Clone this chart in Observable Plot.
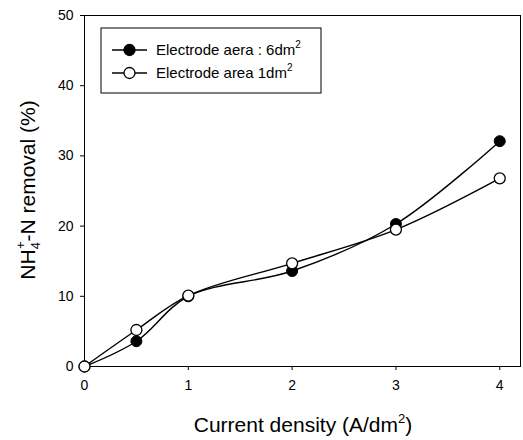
<!DOCTYPE html>
<html>
<head>
<meta charset="utf-8">
<script src="https://cdn.jsdelivr.net/npm/d3@7"></script>
<script src="https://cdn.jsdelivr.net/npm/@observablehq/plot@0.6"></script>
<style>
  html, body { margin: 0; padding: 0; background: #fff; }
  svg { display: block; }
</style>
</head>
<body>
<div id="chart"></div>
<script>
const currentDensity = [0, 0.5, 1, 2, 3, 4];
const removalArea6 = [0, 3.6, 10.0, 13.6, 20.3, 32.1];
const removalArea1 = [0, 5.2, 10.1, 14.7, 19.5, 26.8];
const xTicks = [0, 1, 2, 3, 4];
const yTicks = [0, 10, 20, 30, 40, 50];
const seriesNames = ["Electrode aera : 6dm", "Electrode area 1dm"];

const data6 = currentDensity.map((x, i) => ({x, y: removalArea6[i]}));
const data1 = currentDensity.map((x, i) => ({x, y: removalArea1[i]}));

const W = 523, H = 440;
const mL = 84, mR = 3, mT = 15, mB = 74;

const plot = Plot.plot({
  width: W,
  height: H,
  marginLeft: mL,
  marginRight: mR,
  marginTop: mT,
  marginBottom: mB,
  style: {fontFamily: "'Liberation Sans', Arial, sans-serif", fontSize: "14px", color: "black", background: "white"},
  x: {domain: [0, 4.2], label: null},
  y: {domain: [0, 50], label: null},
  marks: [
    Plot.frame({stroke: "black", strokeWidth: 1}),
    Plot.axisX({ticks: xTicks, tickSize: 4, tickPadding: 10, tickFormat: d3.format("d"), fontSize: 14, label: null}),
    Plot.axisY({ticks: yTicks, tickSize: 4, tickPadding: 7, tickFormat: d3.format("d"), fontSize: 14, label: null}),
    Plot.line(data6, {x: "x", y: "y", curve: "catmull-rom", stroke: "black", strokeWidth: 1.4}),
    Plot.line(data1, {x: "x", y: "y", curve: "catmull-rom", stroke: "black", strokeWidth: 1.4}),
    Plot.dot(data6, {x: "x", y: "y", r: 5.5, fill: "black", stroke: "black", strokeWidth: 1}),
    Plot.dot(data1, {x: "x", y: "y", r: 5.5, fill: "white", stroke: "black", strokeWidth: 1.3})
  ]
});
document.getElementById("chart").appendChild(plot);

const svg = d3.select(plot);
const font = "'Liberation Sans', Arial, sans-serif";

// X axis title
const xt = svg.append("text")
  .attr("x", 303).attr("y", 432)
  .attr("text-anchor", "middle")
  .attr("font-family", font).attr("font-size", 21).attr("fill", "black");
xt.append("tspan").text("Current density (A/dm");
xt.append("tspan").attr("font-size", 13).attr("dy", -9).text("2");
xt.append("tspan").attr("dy", 9).text(")");

// Y axis title
const yt = svg.append("text")
  .attr("transform", "translate(35,190) rotate(-90)")
  .attr("text-anchor", "middle")
  .attr("font-family", font).attr("font-size", 21).attr("fill", "black");
yt.append("tspan").text("NH");
yt.append("tspan").attr("font-size", 13).attr("dy", 5).text("4");
yt.append("tspan").attr("font-size", 13).attr("dy", -15).attr("dx", -7).text("+");
yt.append("tspan").attr("dy", 10).text("-N removal (%)");

// Legend
const lg = svg.append("g").attr("font-family", font).attr("font-size", 15).attr("text-anchor", "start");
lg.append("rect").attr("x", 101).attr("y", 28).attr("width", 220).attr("height", 65)
  .attr("fill", "white").attr("stroke", "black").attr("stroke-width", 1);
const rows = [
  {name: seriesNames[0], fill: "black", y: 50},
  {name: seriesNames[1], fill: "white", y: 73}
];
rows.forEach(r => {
  lg.append("line").attr("x1", 112).attr("x2", 147).attr("y1", r.y).attr("y2", r.y)
    .attr("stroke", "black").attr("stroke-width", 1.4);
  lg.append("circle").attr("cx", 129.5).attr("cy", r.y).attr("r", 5.5)
    .attr("fill", r.fill).attr("stroke", "black").attr("stroke-width", 1.3);
  const t = lg.append("text").attr("x", 156).attr("y", r.y + 5).attr("fill", "black");
  t.append("tspan").text(r.name);
  t.append("tspan").attr("font-size", 10).attr("dy", -7).text("2");
});
</script>
</body>
</html>
